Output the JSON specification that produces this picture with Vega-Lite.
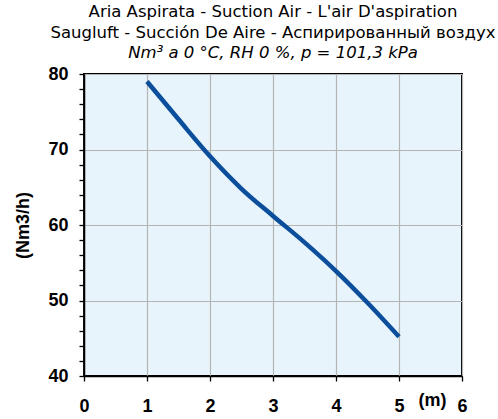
{
  "$schema": "https://vega.github.io/schema/vega-lite/v6.json",
  "autosize": "none",
  "width": 378,
  "height": 302,
  "padding": {"left": 84, "top": 74, "right": 36, "bottom": 43},
  "background": "white",
  "title": {
    "text": ["Aria Aspirata - Suction Air - L'air D'aspiration", "Saugluft - Succión De Aire - Аспирированный воздух"],
    "subtitle": "Nm³ a 0 °C, RH 0 %, p = 101,3 kPa",
    "anchor": "middle",
    "font": "DejaVu Sans",
    "fontSize": 16.5,
    "fontWeight": "normal",
    "color": "#000000",
    "lineHeight": 21,
    "subtitleFont": "DejaVu Sans",
    "subtitleFontSize": 16.5,
    "subtitleFontStyle": "italic",
    "subtitleColor": "#000000",
    "subtitlePadding": 3,
    "offset": 4
  },
  "config": {
    "view": {"fill": "#E8F4FC", "stroke": "#000000", "strokeWidth": 2},
    "axis": {
      "labelFont": "Liberation Sans",
      "labelFontSize": 18,
      "labelFontWeight": "bold",
      "labelColor": "#000000",
      "titleFont": "Liberation Sans",
      "titleFontSize": 18,
      "titleFontWeight": "bold",
      "titleColor": "#000000",
      "domainColor": "#000000",
      "domainWidth": 1.5,
      "tickColor": "#000000",
      "tickWidth": 1.3,
      "tickSize": 5,
      "gridColor": "#B4B4B4",
      "gridWidth": 1.2
    }
  },
  "data": {
    "values": [
      {"distance": 1.0, "flow": 79.0},
      {"distance": 1.5, "flow": 74.0},
      {"distance": 2.0, "flow": 69.1},
      {"distance": 2.5, "flow": 64.8},
      {"distance": 3.0, "flow": 61.2},
      {"distance": 3.5, "flow": 57.7},
      {"distance": 4.0, "flow": 53.9},
      {"distance": 4.5, "flow": 49.7},
      {"distance": 5.0, "flow": 45.2}
    ]
  },
  "mark": {"type": "line", "interpolate": "monotone", "color": "#0B4E9B", "strokeWidth": 4.5, "strokeCap": "butt", "clip": false},
  "encoding": {
    "x": {
      "field": "distance",
      "type": "quantitative",
      "scale": {"domain": [0, 6], "nice": false, "zero": false},
      "axis": {
        "values": [0, 0.5, 1, 1.5, 2, 2.5, 3, 3.5, 4, 4.5, 5, 5.5, 6],
        "format": "d",
        "labelExpr": "datum.value % 1 === 0 ? datum.label : ''",
        "labelPadding": 16,
        "labelFlush": false,
        "labelOverlap": false,
        "gridOpacity": {"condition": {"test": "datum.value % 1 !== 0", "value": 0}, "value": 1},
        "title": "(m)",
        "titleX": 348,
        "titleY": 24,
        "titleAlign": "center",
        "titleBaseline": "middle",
        "titleAnchor": null
      }
    },
    "y": {
      "field": "flow",
      "type": "quantitative",
      "scale": {"domain": [40, 80], "nice": false, "zero": false},
      "axis": {
        "values": [40, 42, 44, 46, 48, 50, 52, 54, 56, 58, 60, 62, 64, 66, 68, 70, 72, 74, 76, 78, 80],
        "format": "d",
        "labelExpr": "datum.value % 10 === 0 ? datum.label : ''",
        "labelPadding": 11,
        "labelFlush": false,
        "labelOverlap": false,
        "gridOpacity": {"condition": {"test": "datum.value % 10 !== 0", "value": 0}, "value": 1},
        "title": "(Nm3/h)",
        "titleX": -61,
        "titleY": 151,
        "titleAngle": -90,
        "titleAlign": "center",
        "titleBaseline": "middle"
      }
    }
  }
}
